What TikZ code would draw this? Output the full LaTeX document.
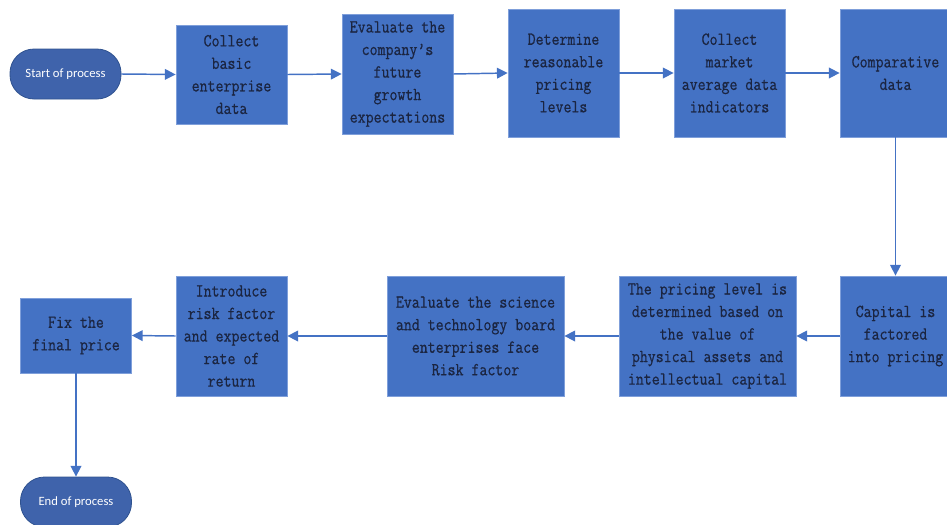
\documentclass[tikz,border=0pt]{standalone}
\usepackage{fontspec}
\setmonofont{Latin Modern Mono}[FakeStretch=0.84, FakeBold=0.6]
\newfontfamily\pillfont{Carlito}
\usetikzlibrary{arrows.meta}
\definecolor{boxblue}{HTML}{4472C4}
\definecolor{boxedge}{HTML}{7F9FDA}
\definecolor{pillblue}{HTML}{3F63AB}
\definecolor{pilledge}{HTML}{2F528F}
\definecolor{boxtext}{HTML}{1B2541}
\tikzset{
  % --- nodes ------------------------------------------------------------
  base/.style    ={draw, line width=0.6pt, align=center, inner sep=2pt},
  stepbox/.style ={base, rectangle, fill=boxblue, draw=boxedge,
                   minimum width=83.25pt, text=boxtext,
                   font=\ttfamily\fontsize{13.8}{16.9}\selectfont},
  widebox/.style ={stepbox, minimum width=132.75pt},
  terminal/.style={base, rounded corners=18pt, fill=pillblue, draw=pilledge,
                   minimum width=83.25pt, minimum height=37.5pt, text=white,
                   font=\pillfont\fontsize{9.5}{11}\selectfont},
  % --- arrows -----------------------------------------------------------
  arrow/.style   ={-{Triangle[length=8pt,width=8pt]}, line width=1.1pt, draw=boxblue},
}

\begin{document}
\begin{tikzpicture}[x=0.75pt, y=-0.75pt]
  \useasboundingbox (0,0) rectangle (947,525);

  % ============================ top row ============================
  \node[terminal] (start) at (65.5,74) {Start of process};
  \node[stepbox, minimum height=74.25pt] (basic) at (231.5,74.5)
    {Collect\\basic\\enterprise\\data};
  \node[stepbox, minimum height=90pt] (growth) at (397.5,74)
    {Evaluate the\\company’s\\future\\growth\\expectations};
  \node[stepbox, minimum height=96pt] (levels) at (563.5,73)
    {Determine\\reasonable\\pricing\\levels};
  \node[stepbox, minimum height=96pt] (market) at (729.5,73)
    {Collect\\market\\average data\\indicators};
  \node[stepbox, minimum height=96pt] (compare) at (895.5,73)
    {Comparative\\data};

  % ============================ bottom row ============================
  \node[stepbox, minimum height=90pt] (capital) at (895.5,336)
    {Capital is\\factored\\into pricing};
  \node[widebox, minimum height=90pt] (assets) at (707.5,336)
    {The pricing level is\\determined based on\\the value of\\physical assets and\\intellectual capital};
  \node[widebox, minimum height=90pt] (risk) at (475.5,336)
    {Evaluate the science\\and technology board\\enterprises face\\Risk factor};
  \node[stepbox, minimum height=90pt] (rate) at (231.5,336)
    {Introduce\\risk factor\\and expected\\rate of\\return};
  \node[stepbox, minimum height=56.25pt] (final) at (76,335.5)
    {Fix the\\final price};
  \node[terminal] (stop) at (76,502) {End of process};

  % ============================ flow ============================
  \draw[arrow] (start.east)   -- (basic.west);
  \draw[arrow] (basic.east)   -- (growth.west);
  \draw[arrow] (growth.east)  -- (levels.west);
  \draw[arrow] (levels.east)  -- (market.west);
  \draw[arrow] (market.east)  -- (compare.west);
  \draw[arrow] (compare.south) -- (capital.north);
  \draw[arrow] (capital.west) -- (assets.east);
  \draw[arrow] (assets.west)  -- (risk.east);
  \draw[arrow] (risk.west)    -- (rate.east);
  \draw[arrow] (rate.west)    -- (final.east);
  \draw[arrow] (final.south)  -- (stop.north);

\end{tikzpicture}
\end{document}
